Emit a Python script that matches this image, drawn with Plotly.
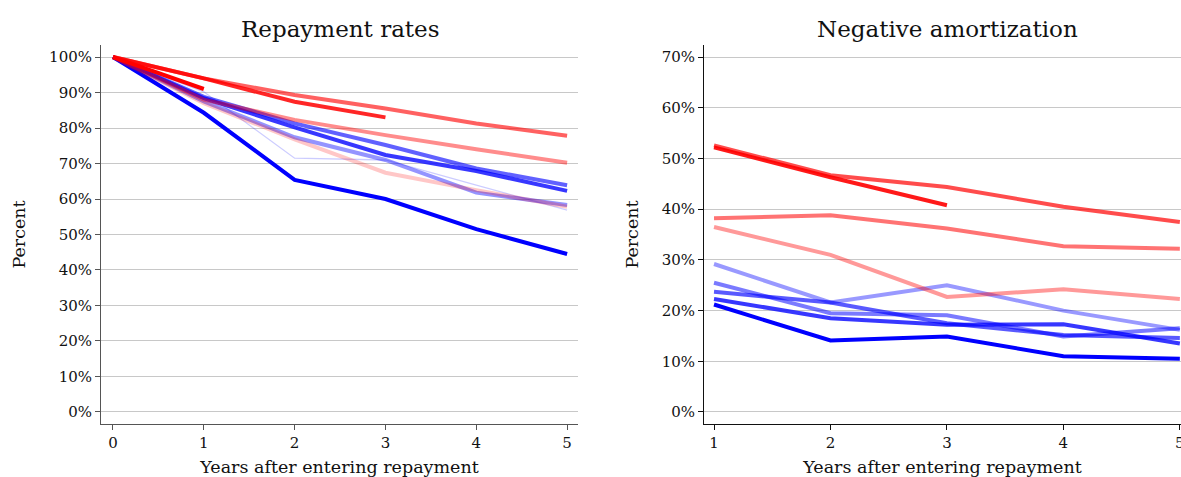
import plotly.graph_objects as go

# ---------------- data ----------------
years_left = [0, 1, 2, 3, 4, 5]
years_right = [1, 2, 3, 4, 5]

left_series = {
    "blue_a": [100, 84.3, 65.4, 60.0, 51.5, 44.5],
    "blue_b": [100, 88.4, 80.2, 72.4, 67.9, 62.3],
    "blue_c": [100, 88.8, 81.3, 75.2, 68.6, 63.9],
    "blue_d": [100, 87.5, 77.4, 71.0, 61.8, 58.3],
    "blue_e": [100, 90.2, 71.5, 71.0, 63.9, 56.9],
    "red_e": [100, 87.0, 76.8, 67.4, 62.5, 57.8],
    "red_d": [100, 88.0, 82.3, 78.0, 74.0, 70.2],
    "red_c": [100, 94.0, 89.3, 85.5, 81.3, 77.8],
    "red_b": [100, 94.0, 87.4, 83.0],
    "red_a": [100, 91.0],
}

right_series = {
    "blue_a": [21.2, 14.1, 14.9, 11.0, 10.5],
    "blue_b": [22.3, 18.5, 17.2, 17.3, 13.5],
    "blue_c": [23.7, 21.6, 17.5, 15.2, 14.6],
    "blue_d": [25.5, 19.5, 19.1, 14.9, 16.5],
    "blue_e": [29.2, 21.6, 25.0, 20.0, 16.2],
    "red_e": [36.5, 31.0, 22.7, 24.2, 22.3],
    "red_d": [38.2, 38.8, 36.2, 32.7, 32.2],
    "red_c": [52.6, 46.7, 44.4, 40.5, 37.5],
    "red_b": [52.2, 46.3, 40.8],
}

left_ticks = [0, 10, 20, 30, 40, 50, 60, 70, 80, 90, 100]
right_ticks = [0, 10, 20, 30, 40, 50, 60, 70]

# ---------------- styles ----------------
LW = 4
left_style = {
    "blue_a": ("rgb(0,0,255)", LW),
    "blue_b": ("rgba(20,20,255,0.85)", LW),
    "blue_c": ("rgba(0,0,255,0.62)", LW),
    "blue_d": ("rgba(0,0,255,0.42)", LW),
    "blue_e": ("rgba(0,0,255,0.2)", 1.3),
    "red_e": ("rgba(255,0,0,0.22)", LW),
    "red_d": ("rgba(255,0,0,0.45)", LW),
    "red_c": ("rgba(255,0,0,0.62)", LW),
    "red_b": ("rgba(255,0,0,0.85)", LW),
    "red_a": ("rgb(255,0,0)", LW),
}
right_style = {
    "blue_a": ("rgb(0,0,255)", LW),
    "blue_b": ("rgba(20,20,255,0.85)", LW),
    "blue_c": ("rgba(0,0,255,0.65)", LW),
    "blue_d": ("rgba(0,0,255,0.52)", LW),
    "blue_e": ("rgba(0,0,255,0.4)", LW),
    "red_e": ("rgba(255,0,0,0.4)", LW),
    "red_d": ("rgba(255,0,0,0.55)", LW),
    "red_c": ("rgba(255,0,0,0.7)", LW),
    "red_b": ("rgba(255,0,0,0.9)", LW),
}

FONT = "'DejaVu Serif', Georgia, serif"

fig = go.Figure()
for name, vals in left_series.items():
    c, w = left_style[name]
    fig.add_trace(go.Scatter(x=years_left[:len(vals)], y=vals, mode="lines",
                             line=dict(color=c, width=w), xaxis="x", yaxis="y",
                             showlegend=False, hoverinfo="skip"))
for name, vals in right_series.items():
    c, w = right_style[name]
    fig.add_trace(go.Scatter(x=years_right[:len(vals)], y=vals, mode="lines",
                             line=dict(color=c, width=w), xaxis="x2", yaxis="y2",
                             showlegend=False, hoverinfo="skip"))

W, H = 1181, 477
def px_x(p):
    return p / W
def px_y(p):
    return (H - p) / H

def axis_common(lc):
    return dict(showline=True, linecolor=lc, linewidth=1, ticks="outside",
                ticklen=5, tickcolor=lc, zeroline=False, ticklabeloverflow="allow",
                automargin=False,
                tickfont=dict(family=FONT, size=15, color="#111"))

title_font = dict(family=FONT, size=17.5, color="#111")

fig.update_layout(
    width=W, height=H,
    margin=dict(l=0, r=0, t=0, b=0, autoexpand=False),
    plot_bgcolor="white", paper_bgcolor="white",
    font=dict(family=FONT, color="#111"),
    xaxis=dict(domain=[px_x(101), px_x(578)], range=[-0.132, 5.12],
               tickvals=years_left, showgrid=False, anchor="y",
               title=dict(text="Years after entering repayment", font=title_font, standoff=9),
               **axis_common("#555")),
    yaxis=dict(domain=[px_y(424), px_y(45)], range=[-3.4, 103.4],
               tickvals=left_ticks, ticktext=[f"{v}%" for v in left_ticks],
               showgrid=True, gridcolor="#c8c8c8", gridwidth=1, anchor="x",
               title=dict(text="Percent", font=title_font, standoff=18),
               **axis_common("#555")),
    xaxis2=dict(domain=[px_x(704), 1.0], range=[0.914, 5.01],
                tickvals=years_right, showgrid=False, anchor="y2",
                title=dict(text="Years after entering repayment", font=title_font, standoff=9),
                **axis_common("#111")),
    yaxis2=dict(domain=[px_y(424), px_y(45)], range=[-2.37, 72.4],
                tickvals=right_ticks, ticktext=[f"{v}%" for v in right_ticks],
                showgrid=True, gridcolor="#c8c8c8", gridwidth=1, anchor="x2",
                title=dict(text="Percent", font=title_font, standoff=18),
                **axis_common("#111")),
    annotations=[
        dict(text="Repayment rates", x=px_x(340), y=px_y(29),
             xref="paper", yref="paper", showarrow=False,
             font=dict(family=FONT, size=23, color="#111"), xanchor="center", yanchor="middle"),
        dict(text="Negative amortization", x=px_x(947), y=px_y(29),
             xref="paper", yref="paper", showarrow=False,
             font=dict(family=FONT, size=23, color="#111"), xanchor="center", yanchor="middle"),
    ],
)

fig.write_html("out.html", config={"displayModeBar": False},
               post_script="document.body.style.margin='0';document.body.style.overflow='hidden';")
